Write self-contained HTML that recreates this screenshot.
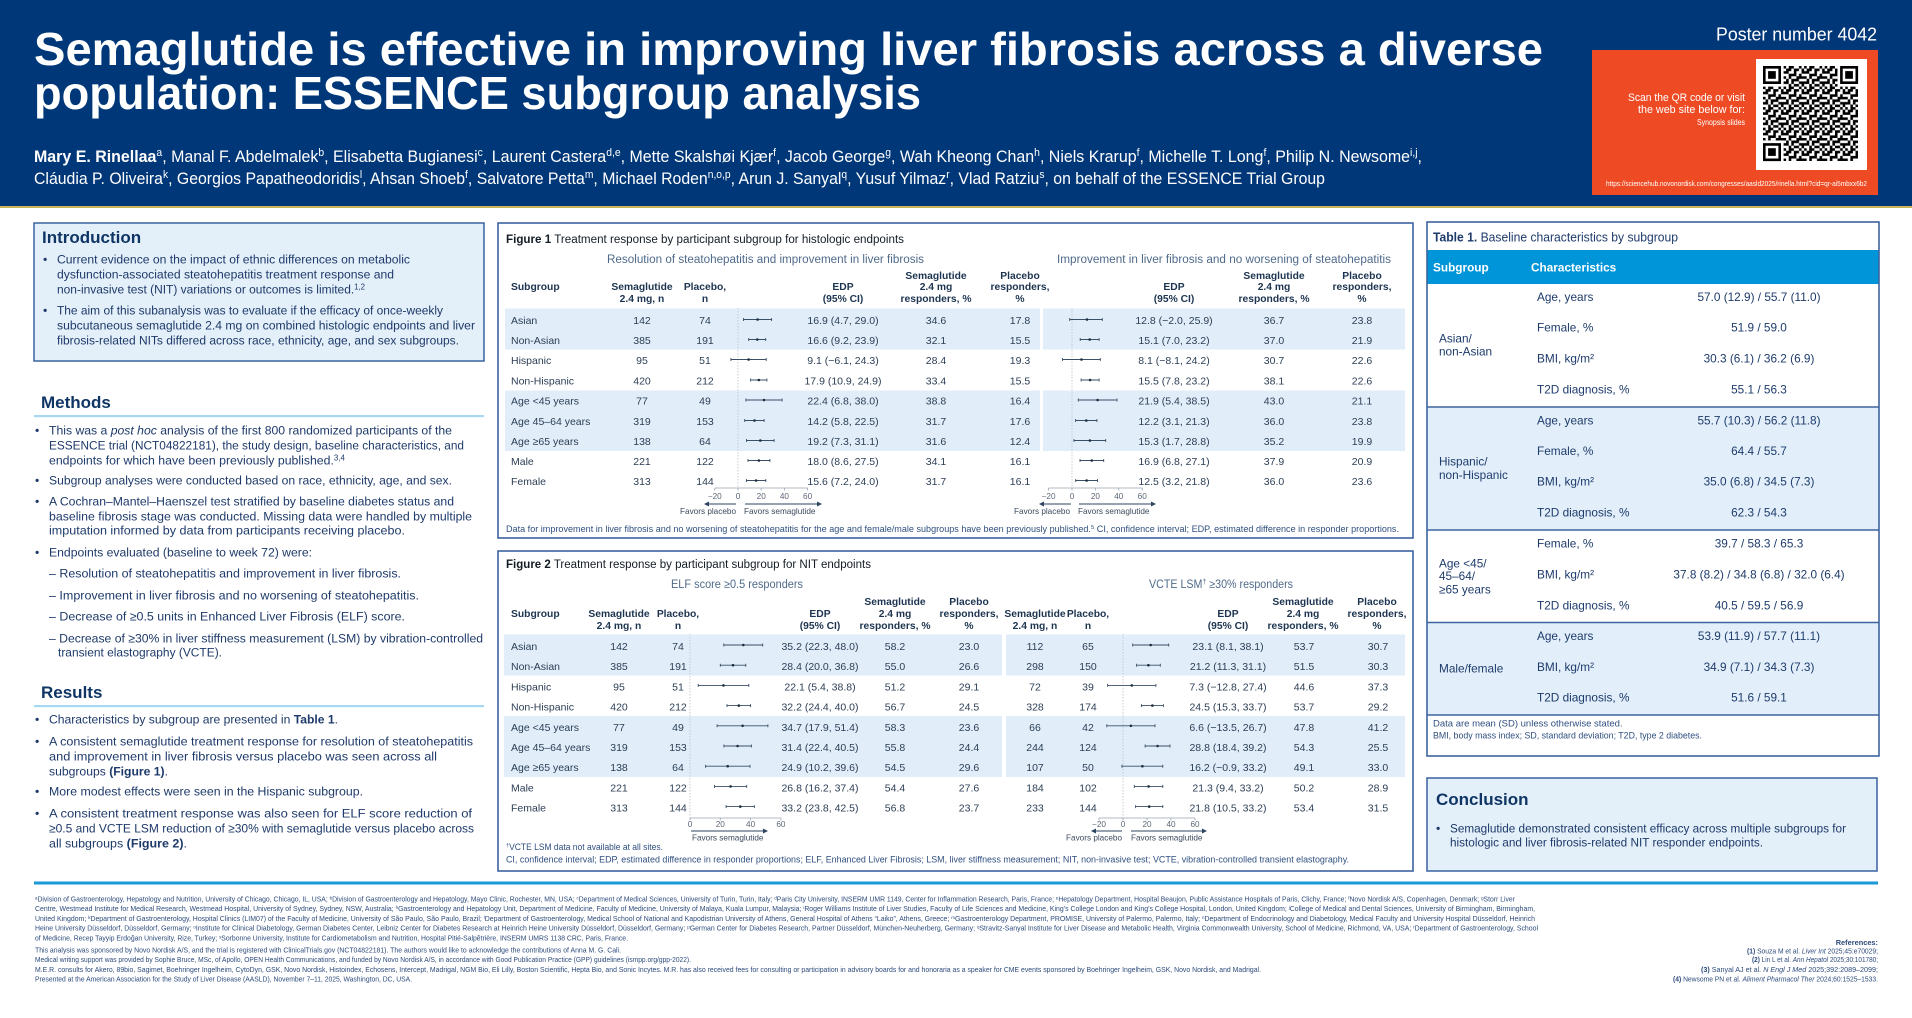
<!DOCTYPE html>
<html><head><meta charset="utf-8">
<style>
html,body{margin:0;padding:0;background:#fff;width:1912px;height:1018px;overflow:hidden}
svg{display:block}
text{font-family:"Liberation Sans",Arial,sans-serif}
.bt{font-size:12.2px;fill:#1e3a6a}
.hd{font-size:17px;font-weight:bold;fill:#0f3565}
.d{font-size:10.5px;fill:#2c3e55;text-anchor:middle}
.dl{font-size:10.5px;fill:#2c3e55}
.h{font-size:10.3px;font-weight:bold;fill:#1d3450;text-anchor:middle}
.hl{font-size:10.3px;font-weight:bold;fill:#1d3450}
.tk{font-size:8.2px;fill:#5b6775;text-anchor:middle}
.fv{font-size:8.2px;fill:#3b4a5c}
.fn{font-size:9px;fill:#2f4f7f}
.t1{font-size:11.8px;fill:#1e3b6b}
.t1v{font-size:11.8px;fill:#1e3b6b;text-anchor:middle}
.ft{font-size:7.4px;fill:#2d4b7c}
.s{font-size:65%;baseline-shift:super}
.ci{stroke:#3b4f66;stroke-width:0.9;fill:none}
.z{stroke:#b8c0ca;stroke-width:0.8;stroke-dasharray:1.5 1.5}
.ax{stroke:#9aa4b0;stroke-width:0.8;fill:none}
.ar{stroke:#2d4560;stroke-width:1.1;fill:none}
.sub{font-size:11.5px;fill:#4f6a8a;text-anchor:middle}
</style></head>
<body>
<svg width="1912" height="1018" viewBox="0 0 1912 1018" xmlns="http://www.w3.org/2000/svg">
<defs>
<pattern id="qr" width="8" height="8" patternUnits="userSpaceOnUse" patternTransform="translate(1763 66) scale(2.57)">
<path fill="#000" d="M0 0h1v1H0zM2 0h2v1H2zM6 0h1v1H6zM1 1h2v1H1zM4 1h2v1H4zM7 1h1v1H7zM0 2h2v1H0zM4 2h1v1H4zM7 2h1v1H7zM2 3h3v1H2zM6 3h1v1H6zM0 4h1v1H0zM2 4h1v1H2zM5 4h3v1H5zM1 5h1v1H1zM3 5h3v1H3zM0 6h2v1H0zM3 6h1v1H3zM6 6h2v1H6zM2 7h1v1H2zM4 7h2v1H4zM7 7h1v1H7z"/>
</pattern>
</defs>

<!-- HEADER -->
<rect x="0" y="0" width="1912" height="207" fill="#003778"/>
<rect x="0" y="206" width="1912" height="2" fill="#cdb25a"/>
<text x="34" y="65" font-size="46" font-weight="bold" fill="#fff" textLength="1509" lengthAdjust="spacingAndGlyphs">Semaglutide is effective in improving liver fibrosis across a diverse</text>
<text x="34" y="109" font-size="46" font-weight="bold" fill="#fff" textLength="887" lengthAdjust="spacingAndGlyphs">population: ESSENCE subgroup analysis</text>
<text x="34" y="162" font-size="17" fill="#fff" textLength="1388" lengthAdjust="spacingAndGlyphs"><tspan font-weight="bold">Mary E. Rinellaa</tspan><tspan class="s">a</tspan>, Manal F. Abdelmalek<tspan class="s">b</tspan>, Elisabetta Bugianesi<tspan class="s">c</tspan>, Laurent Castera<tspan class="s">d,e</tspan>, Mette Skalshøi Kjær<tspan class="s">f</tspan>, Jacob George<tspan class="s">g</tspan>, Wah Kheong Chan<tspan class="s">h</tspan>, Niels Krarup<tspan class="s">f</tspan>, Michelle T. Long<tspan class="s">f</tspan>, Philip N. Newsome<tspan class="s">i,j</tspan>,</text>
<text x="34" y="184" font-size="17" fill="#fff" textLength="1291" lengthAdjust="spacingAndGlyphs">Cláudia P. Oliveira<tspan class="s">k</tspan>, Georgios Papatheodoridis<tspan class="s">l</tspan>, Ahsan Shoeb<tspan class="s">f</tspan>, Salvatore Petta<tspan class="s">m</tspan>, Michael Roden<tspan class="s">n,o,p</tspan>, Arun J. Sanyal<tspan class="s">q</tspan>, Yusuf Yilmaz<tspan class="s">r</tspan>, Vlad Ratziu<tspan class="s">s</tspan>, on behalf of the ESSENCE Trial Group</text>

<text x="1877" y="40.5" font-size="18" fill="#fff" text-anchor="end" textLength="161" lengthAdjust="spacingAndGlyphs">Poster number 4042</text>
<rect x="1592" y="50" width="286" height="145" fill="#ee4b24"/>
<rect x="1756" y="59" width="111" height="111" fill="#fff"/>
<rect x="1763" y="66" width="95" height="95" fill="url(#qr)"/>
<rect x="1763" y="66" width="20.6" height="20.6" fill="#fff"/>
<rect x="1837.5" y="66" width="20.6" height="20.6" fill="#fff"/>
<rect x="1763" y="140.5" width="20.6" height="20.6" fill="#fff"/>
<g fill="#000">
<path d="M1763 66h18v18h-18z M1765.6 68.6v12.8h12.8v-12.8z" fill-rule="evenodd"/>
<rect x="1768.1" y="71.1" width="7.7" height="7.7"/>
<path d="M1840.1 66h18v18h-18z M1842.7 68.6v12.8h12.8v-12.8z" fill-rule="evenodd"/>
<rect x="1845.2" y="71.1" width="7.7" height="7.7"/>
<path d="M1763 143.1h18v18h-18z M1765.6 145.7v12.8h12.8v-12.8z" fill-rule="evenodd"/>
<rect x="1768.1" y="148.2" width="7.7" height="7.7"/>
</g>
<text x="1745" y="101" font-size="11" fill="#fff" text-anchor="end" textLength="117" lengthAdjust="spacingAndGlyphs">Scan the QR code or visit</text>
<text x="1745" y="113" font-size="11" fill="#fff" text-anchor="end" textLength="107" lengthAdjust="spacingAndGlyphs">the web site below for:</text>
<text x="1745" y="125" font-size="8" fill="#fff" text-anchor="end" textLength="48" lengthAdjust="spacingAndGlyphs">Synopsis slides</text>
<text x="1606" y="186" font-size="7.3" fill="#fff" textLength="261" lengthAdjust="spacingAndGlyphs">https://sciencehub.novonordisk.com/congresses/aasld2025/rinella.html?cid=qr-ai5mbxx6b2</text>

<!-- LEFT COLUMN -->
<rect x="34" y="223" width="450" height="138" fill="#e3eff9" stroke="#3a62a0" stroke-width="1.5"/>
<text x="42" y="243" class="hd">Introduction</text>
<text x="43" y="263.5" class="bt">•</text>
<text x="57" y="263.5" class="bt" textLength="353" lengthAdjust="spacingAndGlyphs">Current evidence on the impact of ethnic differences on metabolic</text>
<text x="57" y="278.5" class="bt" textLength="337" lengthAdjust="spacingAndGlyphs">dysfunction-associated steatohepatitis treatment response and</text>
<text x="57" y="293.5" class="bt" textLength="308" lengthAdjust="spacingAndGlyphs">non-invasive test (NIT) variations or outcomes is limited.<tspan class="s">1,2</tspan></text>
<text x="43" y="314.5" class="bt">•</text>
<text x="57" y="314.5" class="bt" textLength="386" lengthAdjust="spacingAndGlyphs">The aim of this subanalysis was to evaluate if the efficacy of once-weekly</text>
<text x="57" y="329.5" class="bt" textLength="418" lengthAdjust="spacingAndGlyphs">subcutaneous semaglutide 2.4 mg on combined histologic endpoints and liver</text>
<text x="57" y="344.5" class="bt" textLength="402" lengthAdjust="spacingAndGlyphs">fibrosis-related NITs differed across race, ethnicity, age, and sex subgroups.</text>

<text x="41" y="408" class="hd">Methods</text>
<rect x="34" y="415" width="450" height="2.2" fill="#a6d9f1"/>
<text x="35" y="434.5" class="bt">•</text>
<text x="49" y="434.5" class="bt" textLength="403" lengthAdjust="spacingAndGlyphs">This was a <tspan font-style="italic">post hoc</tspan> analysis of the first 800 randomized participants of the</text>
<text x="49" y="449.5" class="bt" textLength="415" lengthAdjust="spacingAndGlyphs">ESSENCE trial (NCT04822181), the study design, baseline characteristics, and</text>
<text x="49" y="464.5" class="bt" textLength="296" lengthAdjust="spacingAndGlyphs">endpoints for which have been previously published.<tspan class="s">3,4</tspan></text>
<text x="35" y="484.5" class="bt">•</text>
<text x="49" y="484.5" class="bt" textLength="403" lengthAdjust="spacingAndGlyphs">Subgroup analyses were conducted based on race, ethnicity, age, and sex.</text>
<text x="35" y="505.5" class="bt">•</text>
<text x="49" y="505.5" class="bt" textLength="405" lengthAdjust="spacingAndGlyphs">A Cochran–Mantel–Haenszel test stratified by baseline diabetes status and</text>
<text x="49" y="520.5" class="bt" textLength="423" lengthAdjust="spacingAndGlyphs">baseline fibrosis stage was conducted. Missing data were handled by multiple</text>
<text x="49" y="534.5" class="bt" textLength="356" lengthAdjust="spacingAndGlyphs">imputation informed by data from participants receiving placebo.</text>
<text x="35" y="556.5" class="bt">•</text>
<text x="49" y="556.5" class="bt" textLength="263" lengthAdjust="spacingAndGlyphs">Endpoints evaluated (baseline to week 72) were:</text>
<text x="49" y="577.5" class="bt" textLength="352" lengthAdjust="spacingAndGlyphs">– Resolution of steatohepatitis and improvement in liver fibrosis.</text>
<text x="49" y="599.5" class="bt" textLength="370" lengthAdjust="spacingAndGlyphs">– Improvement in liver fibrosis and no worsening of steatohepatitis.</text>
<text x="49" y="620.5" class="bt" textLength="356" lengthAdjust="spacingAndGlyphs">– Decrease of ≥0.5 units in Enhanced Liver Fibrosis (ELF) score.</text>
<text x="49" y="642.5" class="bt" textLength="434" lengthAdjust="spacingAndGlyphs">– Decrease of ≥30% in liver stiffness measurement (LSM) by vibration-controlled</text>
<text x="58" y="656.5" class="bt" textLength="164" lengthAdjust="spacingAndGlyphs">transient elastography (VCTE).</text>

<text x="41" y="698" class="hd">Results</text>
<rect x="34" y="705" width="450" height="2.2" fill="#a6d9f1"/>
<text x="35" y="723.5" class="bt">•</text>
<text x="49" y="723.5" class="bt" textLength="289" lengthAdjust="spacingAndGlyphs">Characteristics by subgroup are presented in <tspan font-weight="bold">Table 1</tspan>.</text>
<text x="35" y="745.5" class="bt">•</text>
<text x="49" y="745.5" class="bt" textLength="424" lengthAdjust="spacingAndGlyphs">A consistent semaglutide treatment response for resolution of steatohepatitis</text>
<text x="49" y="760.5" class="bt" textLength="388" lengthAdjust="spacingAndGlyphs">and improvement in liver fibrosis versus placebo was seen across all</text>
<text x="49" y="775.5" class="bt" textLength="119" lengthAdjust="spacingAndGlyphs">subgroups <tspan font-weight="bold">(Figure 1)</tspan>.</text>
<text x="35" y="795.5" class="bt">•</text>
<text x="49" y="795.5" class="bt" textLength="314" lengthAdjust="spacingAndGlyphs">More modest effects were seen in the Hispanic subgroup.</text>
<text x="35" y="817.5" class="bt">•</text>
<text x="49" y="817.5" class="bt" textLength="423" lengthAdjust="spacingAndGlyphs">A consistent treatment response was also seen for ELF score reduction of</text>
<text x="49" y="832.5" class="bt" textLength="425" lengthAdjust="spacingAndGlyphs">≥0.5 and VCTE LSM reduction of ≥30% with semaglutide versus placebo across</text>
<text x="49" y="847.5" class="bt" textLength="138" lengthAdjust="spacingAndGlyphs">all subgroups <tspan font-weight="bold">(Figure 2)</tspan>.</text>

<!-- FIGURE 1 -->
<rect x="498" y="223" width="915" height="315" fill="#fff" stroke="#3d62a0" stroke-width="1.6"/>
<text x="506" y="243" font-size="11.5" fill="#141c26" textLength="398" lengthAdjust="spacingAndGlyphs"><tspan font-weight="bold">Figure 1</tspan> Treatment response by participant subgroup for histologic endpoints</text>
<text x="765.5" y="263" class="sub" textLength="317" lengthAdjust="spacingAndGlyphs">Resolution of steatohepatitis and improvement in liver fibrosis</text>
<text x="1224" y="263" class="sub" textLength="334" lengthAdjust="spacingAndGlyphs">Improvement in liver fibrosis and no worsening of steatohepatitis</text>

<rect x="505" y="308.5" width="535" height="41" fill="#e1eef9"/>
<rect x="505" y="390.5" width="535" height="60.5" fill="#e1eef9"/>
<rect x="1043" y="308.5" width="362" height="41" fill="#e1eef9"/>
<rect x="1043" y="390.5" width="362" height="60.5" fill="#e1eef9"/>

<text x="511" y="290" class="hl">Subgroup</text>
<text x="642" y="290" class="h">Semaglutide</text><text x="642" y="302" class="h">2.4 mg, n</text>
<text x="705" y="290" class="h">Placebo,</text><text x="705" y="302" class="h">n</text>
<text x="843" y="290" class="h">EDP</text><text x="843" y="302" class="h">(95% CI)</text>
<text x="936" y="279" class="h">Semaglutide</text><text x="936" y="290" class="h">2.4 mg</text><text x="936" y="302" class="h">responders, %</text>
<text x="1020" y="279" class="h">Placebo</text><text x="1020" y="290" class="h">responders,</text><text x="1020" y="302" class="h">%</text>
<text x="1174" y="290" class="h">EDP</text><text x="1174" y="302" class="h">(95% CI)</text>
<text x="1274" y="279" class="h">Semaglutide</text><text x="1274" y="290" class="h">2.4 mg</text><text x="1274" y="302" class="h">responders, %</text>
<text x="1362" y="279" class="h">Placebo</text><text x="1362" y="290" class="h">responders,</text><text x="1362" y="302" class="h">%</text>

<g>
<text x="511" y="324" class="dl">Asian</text><text x="642" y="324" class="d">142</text><text x="705" y="324" class="d">74</text><text x="843" y="324" class="d">16.9 (4.7, 29.0)</text><text x="936" y="324" class="d">34.6</text><text x="1020" y="324" class="d">17.8</text><text x="1174" y="324" class="d">12.8 (−2.0, 25.9)</text><text x="1274" y="324" class="d">36.7</text><text x="1362" y="324" class="d">23.8</text>
<text x="511" y="344" class="dl">Non-Asian</text><text x="642" y="344" class="d">385</text><text x="705" y="344" class="d">191</text><text x="843" y="344" class="d">16.6 (9.2, 23.9)</text><text x="936" y="344" class="d">32.1</text><text x="1020" y="344" class="d">15.5</text><text x="1174" y="344" class="d">15.1 (7.0, 23.2)</text><text x="1274" y="344" class="d">37.0</text><text x="1362" y="344" class="d">21.9</text>
<text x="511" y="364" class="dl">Hispanic</text><text x="642" y="364" class="d">95</text><text x="705" y="364" class="d">51</text><text x="843" y="364" class="d">9.1 (−6.1, 24.3)</text><text x="936" y="364" class="d">28.4</text><text x="1020" y="364" class="d">19.3</text><text x="1174" y="364" class="d">8.1 (−8.1, 24.2)</text><text x="1274" y="364" class="d">30.7</text><text x="1362" y="364" class="d">22.6</text>
<text x="511" y="384.5" class="dl">Non-Hispanic</text><text x="642" y="384.5" class="d">420</text><text x="705" y="384.5" class="d">212</text><text x="843" y="384.5" class="d">17.9 (10.9, 24.9)</text><text x="936" y="384.5" class="d">33.4</text><text x="1020" y="384.5" class="d">15.5</text><text x="1174" y="384.5" class="d">15.5 (7.8, 23.2)</text><text x="1274" y="384.5" class="d">38.1</text><text x="1362" y="384.5" class="d">22.6</text>
<text x="511" y="404.5" class="dl">Age &lt;45 years</text><text x="642" y="404.5" class="d">77</text><text x="705" y="404.5" class="d">49</text><text x="843" y="404.5" class="d">22.4 (6.8, 38.0)</text><text x="936" y="404.5" class="d">38.8</text><text x="1020" y="404.5" class="d">16.4</text><text x="1174" y="404.5" class="d">21.9 (5.4, 38.5)</text><text x="1274" y="404.5" class="d">43.0</text><text x="1362" y="404.5" class="d">21.1</text>
<text x="511" y="425" class="dl">Age 45–64 years</text><text x="642" y="425" class="d">319</text><text x="705" y="425" class="d">153</text><text x="843" y="425" class="d">14.2 (5.8, 22.5)</text><text x="936" y="425" class="d">31.7</text><text x="1020" y="425" class="d">17.6</text><text x="1174" y="425" class="d">12.2 (3.1, 21.3)</text><text x="1274" y="425" class="d">36.0</text><text x="1362" y="425" class="d">23.8</text>
<text x="511" y="445" class="dl">Age ≥65 years</text><text x="642" y="445" class="d">138</text><text x="705" y="445" class="d">64</text><text x="843" y="445" class="d">19.2 (7.3, 31.1)</text><text x="936" y="445" class="d">31.6</text><text x="1020" y="445" class="d">12.4</text><text x="1174" y="445" class="d">15.3 (1.7, 28.8)</text><text x="1274" y="445" class="d">35.2</text><text x="1362" y="445" class="d">19.9</text>
<text x="511" y="465" class="dl">Male</text><text x="642" y="465" class="d">221</text><text x="705" y="465" class="d">122</text><text x="843" y="465" class="d">18.0 (8.6, 27.5)</text><text x="936" y="465" class="d">34.1</text><text x="1020" y="465" class="d">16.1</text><text x="1174" y="465" class="d">16.9 (6.8, 27.1)</text><text x="1274" y="465" class="d">37.9</text><text x="1362" y="465" class="d">20.9</text>
<text x="511" y="485" class="dl">Female</text><text x="642" y="485" class="d">313</text><text x="705" y="485" class="d">144</text><text x="843" y="485" class="d">15.6 (7.2, 24.0)</text><text x="936" y="485" class="d">31.7</text><text x="1020" y="485" class="d">16.1</text><text x="1174" y="485" class="d">12.5 (3.2, 21.8)</text><text x="1274" y="485" class="d">36.0</text><text x="1362" y="485" class="d">23.6</text>
</g>

<!-- Fig1 forest -->
<line x1="738" y1="308" x2="738" y2="488" class="z"/>
<line x1="1072" y1="308" x2="1072" y2="488" class="z"/>
<path class="ci" d="M743.5 319.5H771.6M743.5 318v3M771.6 318v3 M748.7 339.5H765.7M748.7 338v3M765.7 338v3 M730.9 359.5H766.2M730.9 358v3M766.2 358v3 M750.6 380H766.9M750.6 378.5v3M766.9 378.5v3 M745.9 400H782.1M745.9 398.5v3M782.1 398.5v3 M744.7 420.5H764.1M744.7 419v3M764.1 419v3 M746.5 440.5H774.1M746.5 439v3M774.1 439v3 M748 460.5H769.9M748 459v3M769.9 459v3 M746.4 480.5H765.8M746.4 479v3M765.8 479v3"/>
<g fill="#1e2e40">
<circle cx="757.6" cy="319.5" r="1.3"/><circle cx="757.3" cy="339.5" r="1.3"/><circle cx="748.6" cy="359.5" r="1.3"/><circle cx="758.8" cy="380" r="1.3"/><circle cx="764" cy="400" r="1.3"/><circle cx="754.5" cy="420.5" r="1.3"/><circle cx="760.3" cy="440.5" r="1.3"/><circle cx="758.9" cy="460.5" r="1.3"/><circle cx="756.1" cy="480.5" r="1.3"/>
</g>
<path class="ci" d="M1069.7 319.5H1102.3M1069.7 318v3M1102.3 318v3 M1080.2 339.5H1099.1M1080.2 338v3M1099.1 338v3 M1062.5 359.5H1100.3M1062.5 358v3M1100.3 358v3 M1081.1 380H1099.1M1081.1 378.5v3M1099.1 378.5v3 M1078.3 400H1117M1078.3 398.5v3M1117 398.5v3 M1075.6 420.5H1096.9M1075.6 419v3M1096.9 419v3 M1074 440.5H1105.7M1074 439v3M1105.7 439v3 M1080 460.5H1103.7M1080 459v3M1103.7 459v3 M1075.7 480.5H1097.5M1075.7 479v3M1097.5 479v3"/>
<g fill="#1e2e40">
<circle cx="1087" cy="319.5" r="1.3"/><circle cx="1089.7" cy="339.5" r="1.3"/><circle cx="1081.5" cy="359.5" r="1.3"/><circle cx="1090.1" cy="380" r="1.3"/><circle cx="1097.6" cy="400" r="1.3"/><circle cx="1086.3" cy="420.5" r="1.3"/><circle cx="1089.9" cy="440.5" r="1.3"/><circle cx="1091.8" cy="460.5" r="1.3"/><circle cx="1086.6" cy="480.5" r="1.3"/>
</g>
<!-- Fig1 axes -->
<path class="ax" d="M714.8 488H807.6M714.8 488v2.5M738 488v2.5M761.2 488v2.5M784.4 488v2.5M807.6 488v2.5"/>
<text x="714.8" y="499" class="tk">−20</text><text x="738" y="499" class="tk">0</text><text x="761.2" y="499" class="tk">20</text><text x="784.4" y="499" class="tk">40</text><text x="807.6" y="499" class="tk">60</text>
<path class="ar" d="M736 504H708M745 504H818"/>
<polygon points="704,504 709,501.5 709,506.5" fill="#2d4560"/>
<polygon points="822,504 817,501.5 817,506.5" fill="#2d4560"/>
<text x="736" y="514" class="fv" text-anchor="end">Favors placebo</text>
<text x="744" y="514" class="fv">Favors semaglutide</text>

<path class="ax" d="M1048.6 488H1142.2M1048.6 488v2.5M1072 488v2.5M1095.4 488v2.5M1118.8 488v2.5M1142.2 488v2.5"/>
<text x="1048.6" y="499" class="tk">−20</text><text x="1072" y="499" class="tk">0</text><text x="1095.4" y="499" class="tk">20</text><text x="1118.8" y="499" class="tk">40</text><text x="1142.2" y="499" class="tk">60</text>
<path class="ar" d="M1071 504H1043M1079 504H1152"/>
<polygon points="1039,504 1044,501.5 1044,506.5" fill="#2d4560"/>
<polygon points="1156,504 1151,501.5 1151,506.5" fill="#2d4560"/>
<text x="1070" y="514" class="fv" text-anchor="end">Favors placebo</text>
<text x="1078" y="514" class="fv">Favors semaglutide</text>

<text x="506" y="532" class="fn" textLength="893" lengthAdjust="spacingAndGlyphs">Data for improvement in liver fibrosis and no worsening of steatohepatitis for the age and female/male subgroups have been previously published.<tspan class="s">5</tspan> CI, confidence interval; EDP, estimated difference in responder proportions.</text>

<!-- FIGURE 2 -->
<rect x="498" y="551" width="915" height="320" fill="#fff" stroke="#3d62a0" stroke-width="1.6"/>
<text x="506" y="568" font-size="11.5" fill="#141c26" textLength="365" lengthAdjust="spacingAndGlyphs"><tspan font-weight="bold">Figure 2</tspan> Treatment response by participant subgroup for NIT endpoints</text>
<text x="737" y="588" class="sub" textLength="132" lengthAdjust="spacingAndGlyphs">ELF score ≥0.5 responders</text>
<text x="1221" y="588" class="sub" textLength="144" lengthAdjust="spacingAndGlyphs">VCTE LSM<tspan class="s">†</tspan> ≥30% responders</text>

<rect x="504" y="634.5" width="498" height="41" fill="#e1eef9"/>
<rect x="504" y="716" width="498" height="61" fill="#e1eef9"/>
<rect x="1006" y="634.5" width="399" height="41" fill="#e1eef9"/>
<rect x="1006" y="716" width="399" height="61" fill="#e1eef9"/>

<text x="511" y="617" class="hl">Subgroup</text>
<text x="619" y="617" class="h">Semaglutide</text><text x="619" y="629" class="h">2.4 mg, n</text>
<text x="678" y="617" class="h">Placebo,</text><text x="678" y="629" class="h">n</text>
<text x="820" y="617" class="h">EDP</text><text x="820" y="629" class="h">(95% CI)</text>
<text x="895" y="605" class="h">Semaglutide</text><text x="895" y="617" class="h">2.4 mg</text><text x="895" y="629" class="h">responders, %</text>
<text x="969" y="605" class="h">Placebo</text><text x="969" y="617" class="h">responders,</text><text x="969" y="629" class="h">%</text>
<text x="1035" y="617" class="h">Semaglutide</text><text x="1035" y="629" class="h">2.4 mg, n</text>
<text x="1088" y="617" class="h">Placebo,</text><text x="1088" y="629" class="h">n</text>
<text x="1228" y="617" class="h">EDP</text><text x="1228" y="629" class="h">(95% CI)</text>
<text x="1303" y="605" class="h">Semaglutide</text><text x="1303" y="617" class="h">2.4 mg</text><text x="1303" y="629" class="h">responders, %</text>
<text x="1377" y="605" class="h">Placebo</text><text x="1377" y="617" class="h">responders,</text><text x="1377" y="629" class="h">%</text>

<g>
<text x="511" y="650" class="dl">Asian</text><text x="619" y="650" class="d">142</text><text x="678" y="650" class="d">74</text><text x="820" y="650" class="d">35.2 (22.3, 48.0)</text><text x="895" y="650" class="d">58.2</text><text x="969" y="650" class="d">23.0</text><text x="1035" y="650" class="d">112</text><text x="1088" y="650" class="d">65</text><text x="1228" y="650" class="d">23.1 (8.1, 38.1)</text><text x="1304" y="650" class="d">53.7</text><text x="1378" y="650" class="d">30.7</text>
<text x="511" y="670.2" class="dl">Non-Asian</text><text x="619" y="670.2" class="d">385</text><text x="678" y="670.2" class="d">191</text><text x="820" y="670.2" class="d">28.4 (20.0, 36.8)</text><text x="895" y="670.2" class="d">55.0</text><text x="969" y="670.2" class="d">26.6</text><text x="1035" y="670.2" class="d">298</text><text x="1088" y="670.2" class="d">150</text><text x="1228" y="670.2" class="d">21.2 (11.3, 31.1)</text><text x="1304" y="670.2" class="d">51.5</text><text x="1378" y="670.2" class="d">30.3</text>
<text x="511" y="690.4" class="dl">Hispanic</text><text x="619" y="690.4" class="d">95</text><text x="678" y="690.4" class="d">51</text><text x="820" y="690.4" class="d">22.1 (5.4, 38.8)</text><text x="895" y="690.4" class="d">51.2</text><text x="969" y="690.4" class="d">29.1</text><text x="1035" y="690.4" class="d">72</text><text x="1088" y="690.4" class="d">39</text><text x="1228" y="690.4" class="d">7.3 (−12.8, 27.4)</text><text x="1304" y="690.4" class="d">44.6</text><text x="1378" y="690.4" class="d">37.3</text>
<text x="511" y="710.6" class="dl">Non-Hispanic</text><text x="619" y="710.6" class="d">420</text><text x="678" y="710.6" class="d">212</text><text x="820" y="710.6" class="d">32.2 (24.4, 40.0)</text><text x="895" y="710.6" class="d">56.7</text><text x="969" y="710.6" class="d">24.5</text><text x="1035" y="710.6" class="d">328</text><text x="1088" y="710.6" class="d">174</text><text x="1228" y="710.6" class="d">24.5 (15.3, 33.7)</text><text x="1304" y="710.6" class="d">53.7</text><text x="1378" y="710.6" class="d">29.2</text>
<text x="511" y="730.8" class="dl">Age &lt;45 years</text><text x="619" y="730.8" class="d">77</text><text x="678" y="730.8" class="d">49</text><text x="820" y="730.8" class="d">34.7 (17.9, 51.4)</text><text x="895" y="730.8" class="d">58.3</text><text x="969" y="730.8" class="d">23.6</text><text x="1035" y="730.8" class="d">66</text><text x="1088" y="730.8" class="d">42</text><text x="1228" y="730.8" class="d">6.6 (−13.5, 26.7)</text><text x="1304" y="730.8" class="d">47.8</text><text x="1378" y="730.8" class="d">41.2</text>
<text x="511" y="751" class="dl">Age 45–64 years</text><text x="619" y="751" class="d">319</text><text x="678" y="751" class="d">153</text><text x="820" y="751" class="d">31.4 (22.4, 40.5)</text><text x="895" y="751" class="d">55.8</text><text x="969" y="751" class="d">24.4</text><text x="1035" y="751" class="d">244</text><text x="1088" y="751" class="d">124</text><text x="1228" y="751" class="d">28.8 (18.4, 39.2)</text><text x="1304" y="751" class="d">54.3</text><text x="1378" y="751" class="d">25.5</text>
<text x="511" y="771.2" class="dl">Age ≥65 years</text><text x="619" y="771.2" class="d">138</text><text x="678" y="771.2" class="d">64</text><text x="820" y="771.2" class="d">24.9 (10.2, 39.6)</text><text x="895" y="771.2" class="d">54.5</text><text x="969" y="771.2" class="d">29.6</text><text x="1035" y="771.2" class="d">107</text><text x="1088" y="771.2" class="d">50</text><text x="1228" y="771.2" class="d">16.2 (−0.9, 33.2)</text><text x="1304" y="771.2" class="d">49.1</text><text x="1378" y="771.2" class="d">33.0</text>
<text x="511" y="791.4" class="dl">Male</text><text x="619" y="791.4" class="d">221</text><text x="678" y="791.4" class="d">122</text><text x="820" y="791.4" class="d">26.8 (16.2, 37.4)</text><text x="895" y="791.4" class="d">54.4</text><text x="969" y="791.4" class="d">27.6</text><text x="1035" y="791.4" class="d">184</text><text x="1088" y="791.4" class="d">102</text><text x="1228" y="791.4" class="d">21.3 (9.4, 33.2)</text><text x="1304" y="791.4" class="d">50.2</text><text x="1378" y="791.4" class="d">28.9</text>
<text x="511" y="811.6" class="dl">Female</text><text x="619" y="811.6" class="d">313</text><text x="678" y="811.6" class="d">144</text><text x="820" y="811.6" class="d">33.2 (23.8, 42.5)</text><text x="895" y="811.6" class="d">56.8</text><text x="969" y="811.6" class="d">23.7</text><text x="1035" y="811.6" class="d">233</text><text x="1088" y="811.6" class="d">144</text><text x="1228" y="811.6" class="d">21.8 (10.5, 33.2)</text><text x="1304" y="811.6" class="d">53.4</text><text x="1378" y="811.6" class="d">31.5</text>
</g>

<!-- Fig2 forest -->
<line x1="690" y1="634" x2="690" y2="818" class="z"/>
<line x1="1123" y1="634" x2="1123" y2="818" class="z"/>
<path class="ci" d="M723.8 645H762.7M723.8 643.5v3M762.7 643.5v3 M720.3 665.2H745.8M720.3 663.7v3M745.8 663.7v3 M698.2 685.4H748.8M698.2 683.9v3M748.8 683.9v3 M727 705.6H750.6M727 704.1v3M750.6 704.1v3 M717.1 725.8H767.9M717.1 724.3v3M767.9 724.3v3 M723.9 746H751.4M723.9 744.5v3M751.4 744.5v3 M705.5 766.2H750M705.5 764.7v3M750 764.7v3 M714.5 786.4H746.7M714.5 784.9v3M746.7 784.9v3 M726.1 806.6H754.4M726.1 805.1v3M754.4 805.1v3"/>
<g fill="#1e2e40">
<circle cx="743.3" cy="645" r="1.3"/><circle cx="733" cy="665.2" r="1.3"/><circle cx="723.5" cy="685.4" r="1.3"/><circle cx="738.8" cy="705.6" r="1.3"/><circle cx="742.6" cy="725.8" r="1.3"/><circle cx="737.6" cy="746" r="1.3"/><circle cx="727.7" cy="766.2" r="1.3"/><circle cx="730.6" cy="786.4" r="1.3"/><circle cx="740.3" cy="806.6" r="1.3"/>
</g>
<path class="ci" d="M1132.7 645H1168.7M1132.7 643.5v3M1168.7 643.5v3 M1136.6 665.2H1160.3M1136.6 663.7v3M1160.3 663.7v3 M1107.6 685.4H1155.9M1107.6 683.9v3M1155.9 683.9v3 M1141.4 705.6H1163.4M1141.4 704.1v3M1163.4 704.1v3 M1106.8 725.8H1155M1106.8 724.3v3M1155 724.3v3 M1145.1 746H1170M1145.1 744.5v3M1170 744.5v3 M1121.9 766.2H1162.8M1121.9 764.7v3M1162.8 764.7v3 M1134.3 786.4H1162.8M1134.3 784.9v3M1162.8 784.9v3 M1135.6 806.6H1162.8M1135.6 805.1v3M1162.8 805.1v3"/>
<g fill="#1e2e40">
<circle cx="1150.7" cy="645" r="1.3"/><circle cx="1148.4" cy="665.2" r="1.3"/><circle cx="1131.8" cy="685.4" r="1.3"/><circle cx="1152.4" cy="705.6" r="1.3"/><circle cx="1130.9" cy="725.8" r="1.3"/><circle cx="1157.6" cy="746" r="1.3"/><circle cx="1142.4" cy="766.2" r="1.3"/><circle cx="1148.6" cy="786.4" r="1.3"/><circle cx="1149.2" cy="806.6" r="1.3"/>
</g>
<!-- Fig2 axes -->
<path class="ax" d="M690 818H780.9M690 818v2.5M720.3 818v2.5M750.6 818v2.5M780.9 818v2.5"/>
<text x="690" y="827" class="tk">0</text><text x="720.3" y="827" class="tk">20</text><text x="750.6" y="827" class="tk">40</text><text x="780.9" y="827" class="tk">60</text>
<path class="ar" d="M691 831H764"/>
<polygon points="768,831 763,828.5 763,833.5" fill="#2d4560"/>
<text x="692" y="840.5" class="fv">Favors semaglutide</text>

<path class="ax" d="M1099 818H1195M1099 818v2.5M1123 818v2.5M1147 818v2.5M1171 818v2.5M1195 818v2.5"/>
<text x="1099" y="827" class="tk">−20</text><text x="1123" y="827" class="tk">0</text><text x="1147" y="827" class="tk">20</text><text x="1171" y="827" class="tk">40</text><text x="1195" y="827" class="tk">60</text>
<path class="ar" d="M1122 831H1095M1131 831H1203"/>
<polygon points="1091,831 1096,828.5 1096,833.5" fill="#2d4560"/>
<polygon points="1207,831 1202,828.5 1202,833.5" fill="#2d4560"/>
<text x="1122" y="840.5" class="fv" text-anchor="end">Favors placebo</text>
<text x="1131" y="840.5" class="fv">Favors semaglutide</text>

<text x="506" y="850" class="fn" textLength="157" lengthAdjust="spacingAndGlyphs"><tspan class="s">†</tspan>VCTE LSM data not available at all sites.</text>
<text x="506" y="862.5" class="fn" textLength="843" lengthAdjust="spacingAndGlyphs">CI, confidence interval; EDP, estimated difference in responder proportions; ELF, Enhanced Liver Fibrosis; LSM, liver stiffness measurement; NIT, non-invasive test; VCTE, vibration-controlled transient elastography.</text>

<!-- TABLE 1 -->
<rect x="1427" y="222" width="452" height="534" fill="#fff"/>
<rect x="1427" y="407" width="452" height="123" fill="#e2effa"/>
<rect x="1427" y="622.5" width="452" height="92.5" fill="#e2effa"/>
<rect x="1427" y="250" width="452" height="34" fill="#0095d8"/>
<g stroke="#3d64a0" stroke-width="1.5">
<line x1="1427" y1="407" x2="1879" y2="407"/>
<line x1="1427" y1="530" x2="1879" y2="530"/>
<line x1="1427" y1="622.5" x2="1879" y2="622.5"/>
<line x1="1427" y1="715" x2="1879" y2="715"/>
</g>
<rect x="1427" y="222" width="452" height="534" fill="none" stroke="#3d64a0" stroke-width="1.6"/>
<text x="1433" y="241.7" font-size="12.5" fill="#1e3b6b" textLength="245" lengthAdjust="spacingAndGlyphs"><tspan font-weight="bold">Table 1.</tspan> Baseline characteristics by subgroup</text>
<text x="1433" y="271.7" font-size="11.8" font-weight="bold" fill="#fff">Subgroup</text>
<text x="1531" y="271.7" font-size="11.8" font-weight="bold" fill="#fff">Characteristics</text>

<text x="1439" y="342.7" class="t1">Asian/</text><text x="1439" y="355.7" class="t1">non-Asian</text>
<text x="1537" y="301" class="t1">Age, years</text><text x="1759" y="301" class="t1v">57.0 (12.9) / 55.7 (11.0)</text>
<text x="1537" y="331.7" class="t1">Female, %</text><text x="1759" y="331.7" class="t1v">51.9 / 59.0</text>
<text x="1537" y="362.7" class="t1">BMI, kg/m²</text><text x="1759" y="362.7" class="t1v">30.3 (6.1) / 36.2 (6.9)</text>
<text x="1537" y="393.3" class="t1">T2D diagnosis, %</text><text x="1759" y="393.3" class="t1v">55.1 / 56.3</text>

<text x="1439" y="465.7" class="t1">Hispanic/</text><text x="1439" y="479" class="t1">non-Hispanic</text>
<text x="1537" y="424.3" class="t1">Age, years</text><text x="1759" y="424.3" class="t1v">55.7 (10.3) / 56.2 (11.8)</text>
<text x="1537" y="455" class="t1">Female, %</text><text x="1759" y="455" class="t1v">64.4 / 55.7</text>
<text x="1537" y="485.7" class="t1">BMI, kg/m²</text><text x="1759" y="485.7" class="t1v">35.0 (6.8) / 34.5 (7.3)</text>
<text x="1537" y="516.7" class="t1">T2D diagnosis, %</text><text x="1759" y="516.7" class="t1v">62.3 / 54.3</text>

<text x="1439" y="567.3" class="t1">Age &lt;45/</text><text x="1439" y="580" class="t1">45–64/</text><text x="1439" y="593.3" class="t1">≥65 years</text>
<text x="1537" y="547.7" class="t1">Female, %</text><text x="1759" y="547.7" class="t1v">39.7 / 58.3 / 65.3</text>
<text x="1537" y="578.3" class="t1">BMI, kg/m²</text><text x="1759" y="578.3" class="t1v">37.8 (8.2) / 34.8 (6.8) / 32.0 (6.4)</text>
<text x="1537" y="609.3" class="t1">T2D diagnosis, %</text><text x="1759" y="609.3" class="t1v">40.5 / 59.5 / 56.9</text>

<text x="1439" y="672.7" class="t1">Male/female</text>
<text x="1537" y="640" class="t1">Age, years</text><text x="1759" y="640" class="t1v">53.9 (11.9) / 57.7 (11.1)</text>
<text x="1537" y="671" class="t1">BMI, kg/m²</text><text x="1759" y="671" class="t1v">34.9 (7.1) / 34.3 (7.3)</text>
<text x="1537" y="701.7" class="t1">T2D diagnosis, %</text><text x="1759" y="701.7" class="t1v">51.6 / 59.1</text>

<text x="1433" y="726.3" font-size="9.5" fill="#2f4f7f">Data are mean (SD) unless otherwise stated.</text>
<text x="1433" y="738.3" font-size="9.5" fill="#2f4f7f" textLength="269" lengthAdjust="spacingAndGlyphs">BMI, body mass index; SD, standard deviation; T2D, type 2 diabetes.</text>

<!-- CONCLUSION -->
<rect x="1427" y="778" width="450" height="93" fill="#e3eff9" stroke="#3a62a0" stroke-width="1.5"/>
<text x="1436" y="805" class="hd">Conclusion</text>
<text x="1436" y="832.5" class="bt">•</text>
<text x="1450" y="832.5" class="bt" textLength="396" lengthAdjust="spacingAndGlyphs">Semaglutide demonstrated consistent efficacy across multiple subgroups for</text>
<text x="1450" y="846.5" class="bt" textLength="313" lengthAdjust="spacingAndGlyphs">histologic and liver fibrosis-related NIT responder endpoints.</text>

<!-- FOOTER -->
<rect x="34" y="881.5" width="1844" height="3" fill="#1a9ad6"/>
<text x="35" y="901.5" class="ft" textLength="1480" lengthAdjust="spacingAndGlyphs"><tspan class="s">a</tspan>Division of Gastroenterology, Hepatology and Nutrition, University of Chicago, Chicago, IL, USA; <tspan class="s">b</tspan>Division of Gastroenterology and Hepatology, Mayo Clinic, Rochester, MN, USA; <tspan class="s">c</tspan>Department of Medical Sciences, University of Turin, Turin, Italy; <tspan class="s">d</tspan>Paris City University, INSERM UMR 1149, Center for Inflammation Research, Paris, France; <tspan class="s">e</tspan>Hepatology Department, Hospital Beaujon, Public Assistance Hospitals of Paris, Clichy, France; <tspan class="s">f</tspan>Novo Nordisk A/S, Copenhagen, Denmark; <tspan class="s">g</tspan>Storr Liver</text>
<text x="35" y="911.2" class="ft" textLength="1500" lengthAdjust="spacingAndGlyphs">Centre, Westmead Institute for Medical Research, Westmead Hospital, University of Sydney, Sydney, NSW, Australia; <tspan class="s">h</tspan>Gastroenterology and Hepatology Unit, Department of Medicine, Faculty of Medicine, University of Malaya, Kuala Lumpur, Malaysia; <tspan class="s">i</tspan>Roger Williams Institute of Liver Studies, Faculty of Life Sciences and Medicine, King’s College London and King’s College Hospital, London, United Kingdom; <tspan class="s">j</tspan>College of Medical and Dental Sciences, University of Birmingham, Birmingham,</text>
<text x="35" y="920.9" class="ft" textLength="1500" lengthAdjust="spacingAndGlyphs">United Kingdom; <tspan class="s">k</tspan>Department of Gastroenterology, Hospital Clinics (LIM07) of the Faculty of Medicine, University of São Paulo, São Paulo, Brazil; <tspan class="s">l</tspan>Department of Gastroenterology, Medical School of National and Kapodistrian University of Athens, General Hospital of Athens “Laiko”, Athens, Greece; <tspan class="s">m</tspan>Gastroenterology Department, PROMISE, University of Palermo, Palermo, Italy; <tspan class="s">n</tspan>Department of Endocrinology and Diabetology, Medical Faculty and University Hospital Düsseldorf, Heinrich</text>
<text x="35" y="930.6" class="ft" textLength="1503" lengthAdjust="spacingAndGlyphs">Heine University Düsseldorf, Düsseldorf, Germany; <tspan class="s">o</tspan>Institute for Clinical Diabetology, German Diabetes Center, Leibniz Center for Diabetes Research at Heinrich Heine University Düsseldorf, Düsseldorf, Germany; <tspan class="s">p</tspan>German Center for Diabetes Research, Partner Düsseldorf, München-Neuherberg, Germany; <tspan class="s">q</tspan>Stravitz-Sanyal Institute for Liver Disease and Metabolic Health, Virginia Commonwealth University, School of Medicine, Richmond, VA, USA; <tspan class="s">r</tspan>Department of Gastroenterology, School</text>
<text x="35" y="940.3" class="ft" textLength="593" lengthAdjust="spacingAndGlyphs">of Medicine, Recep Tayyip Erdoğan University, Rize, Turkey; <tspan class="s">s</tspan>Sorbonne University, Institute for Cardiometabolism and Nutrition, Hospital Pitié-Salpêtrière, INSERM UMRS 1138 CRC, Paris, France.</text>

<text x="35" y="952.5" class="ft" textLength="586" lengthAdjust="spacingAndGlyphs">This analysis was sponsored by Novo Nordisk A/S, and the trial is registered with ClinicalTrials.gov (NCT04822181). The authors would like to acknowledge the contributions of Anna M. G. Cali.</text>
<text x="35" y="962.2" class="ft" textLength="656" lengthAdjust="spacingAndGlyphs">Medical writing support was provided by Sophie Bruce, MSc, of Apollo, OPEN Health Communications, and funded by Novo Nordisk A/S, in accordance with Good Publication Practice (GPP) guidelines (ismpp.org/gpp-2022).</text>
<text x="35" y="971.9" class="ft" textLength="1226" lengthAdjust="spacingAndGlyphs">M.E.R. consults for Akero, 89bio, Sagimet, Boehringer Ingelheim, CytoDyn, GSK, Novo Nordisk, Histoindex, Echosens, Intercept, Madrigal, NGM Bio, Eli Lilly, Boston Scientific, Hepta Bio, and Sonic Incytes. M.R. has also received fees for consulting or participation in advisory boards for and honoraria as a speaker for CME events sponsored by Boehringer Ingelheim, GSK, Novo Nordisk, and Madrigal.</text>
<text x="35" y="981.6" class="ft" textLength="377" lengthAdjust="spacingAndGlyphs">Presented at the American Association for the Study of Liver Disease (AASLD), November 7–11, 2025, Washington, DC, USA.</text>

<text x="1878" y="945" class="ft" font-weight="bold" text-anchor="end">References:</text>
<text x="1878" y="953.5" class="ft" text-anchor="end" textLength="131" lengthAdjust="spacingAndGlyphs"><tspan font-weight="bold">(1)</tspan> Souza M et al. <tspan font-style="italic">Liver Int</tspan> 2025;45:e70029;</text>
<text x="1878" y="962.2" class="ft" text-anchor="end" textLength="126" lengthAdjust="spacingAndGlyphs"><tspan font-weight="bold">(2)</tspan> Lin L et al. <tspan font-style="italic">Ann Hepatol</tspan> 2025;30:101780;</text>
<text x="1878" y="971.9" class="ft" text-anchor="end" textLength="177" lengthAdjust="spacingAndGlyphs"><tspan font-weight="bold">(3)</tspan> Sanyal AJ et al. <tspan font-style="italic">N Engl J Med</tspan> 2025;392:2089–2099;</text>
<text x="1878" y="981.6" class="ft" text-anchor="end" textLength="205" lengthAdjust="spacingAndGlyphs"><tspan font-weight="bold">(4)</tspan> Newsome PN et al. <tspan font-style="italic">Aliment Pharmacol Ther</tspan> 2024;60:1525–1533.</text>
</svg>
</body></html>
